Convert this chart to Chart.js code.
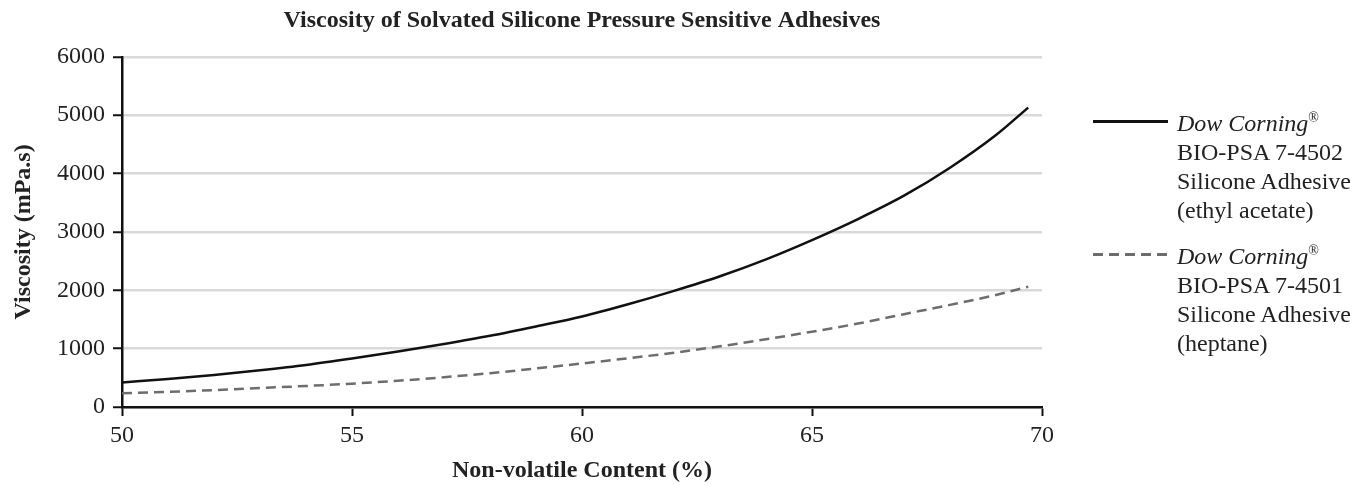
<!DOCTYPE html>
<html>
<head>
<meta charset="utf-8">
<script src="https://cdn.jsdelivr.net/npm/chart.js@4/dist/chart.umd.min.js"></script>
<style>
  body { margin: 0; background: #fff; }
  #wrap { position: relative; width: 1365px; height: 485px; }
  .legend { position: absolute; left: 1093px; font-family: "Liberation Serif", serif; font-size: 24px; line-height: 29px; color: #222; }
  .legend .sample { position: absolute; left: 0; top: 11px; width: 75px; height: 3px; }
  .legend .txt { margin-left: 84px; white-space: nowrap; }
  .legend sup { font-size: 14px; font-style: normal; vertical-align: 9px; line-height: 0; }
</style>
</head>
<body>
<div id="wrap">
  <canvas id="chart" width="1365" height="485"></canvas>
  <div class="legend" style="top: 109px;">
    <div class="sample" style="background: #111;"></div>
    <div class="txt"><i>Dow Corning</i><sup>®</sup><br>BIO-PSA 7-4502<br>Silicone Adhesive<br>(ethyl acetate)</div>
  </div>
  <div class="legend" style="top: 242px;">
    <div class="sample" style="background: repeating-linear-gradient(to right, #6d6d6d 0 10px, transparent 10px 16px);"></div>
    <div class="txt"><i>Dow Corning</i><sup>®</sup><br>BIO-PSA 7-4501<br>Silicone Adhesive<br>(heptane)</div>
  </div>
</div>
<script>
// Non-volatile content (%)
const content = [50, 51, 52, 53, 54, 55, 56, 57, 58, 59, 60, 61, 62, 63, 64, 65, 66, 67, 68, 69, 69.7];
// Viscosity (mPa.s)
const ethylAcetate = [420, 480, 550, 630, 720, 830, 950, 1080, 1220, 1380, 1550, 1760, 1990, 2240, 2530, 2860, 3220, 3620, 4100, 4660, 5130];
const heptane = [235, 260, 290, 325, 360, 400, 450, 510, 580, 660, 745, 835, 930, 1040, 1160, 1290, 1430, 1590, 1750, 1920, 2060];

const serif = '"Liberation Serif", "Times New Roman", serif';

function toPoints(xs, ys) {
    return xs.map((x, i) => ({ x: x, y: ys[i] }));
}

new Chart(document.getElementById('chart'), {
    type: 'line',
    data: {
        datasets: [{
            label: 'BIO-PSA 7-4502 (ethyl acetate)',
            data: toPoints(content, ethylAcetate),
            borderColor: '#111',
            borderWidth: 2.5,
            pointRadius: 0,
            cubicInterpolationMode: 'monotone'
        }, {
            label: 'BIO-PSA 7-4501 (heptane)',
            data: toPoints(content, heptane),
            borderColor: '#6d6d6d',
            borderWidth: 2.5,
            borderDash: [10, 6],
            pointRadius: 0,
            cubicInterpolationMode: 'monotone'
        }]
    },
    options: {
        responsive: false,
        animation: false,
        layout: { padding: { left: 0, right: 323, top: 0, bottom: 0 } },
        plugins: {
            legend: { display: false },
            tooltip: { enabled: false },
            title: {
                display: true,
                fullSize: false,
                text: 'Viscosity of Solvated Silicone Pressure Sensitive Adhesives',
                color: '#222',
                font: { family: serif, size: 24, weight: 'bold' },
                padding: { top: 6, bottom: 22 }
            }
        },
        scales: {
            x: {
                type: 'linear',
                min: 50,
                max: 70,
                ticks: { stepSize: 5, color: '#222', font: { family: serif, size: 24 }, padding: 5 },
                grid: { drawOnChartArea: false, drawTicks: true, tickLength: 9, tickColor: '#111', tickWidth: 2 },
                border: { color: '#111', width: 2.5 },
                title: {
                    display: true,
                    text: 'Non-volatile Content (%)',
                    color: '#222',
                    font: { family: serif, size: 24, weight: 'bold' },
                    padding: { top: 0, bottom: 0 }
                },
                afterFit: scale => { scale.height = 78; }
            },
            y: {
                min: 0,
                max: 6000,
                ticks: { stepSize: 1000, color: '#222', font: { family: serif, size: 24 }, padding: 8, callback: v => String(v) },
                grid: { color: '#d9d9d9', lineWidth: 2.5, tickLength: 9, tickColor: '#111', tickWidth: 2 },
                border: { color: '#111', width: 2.5 },
                title: {
                    display: true,
                    text: 'Viscosity (mPa.s)',
                    color: '#222',
                    font: { family: serif, size: 24, weight: 'bold' },
                    padding: { top: 9, bottom: 0 }
                },
                afterFit: scale => { scale.width = 122; }
            }
        }
    }
});
</script>
</body>
</html>
